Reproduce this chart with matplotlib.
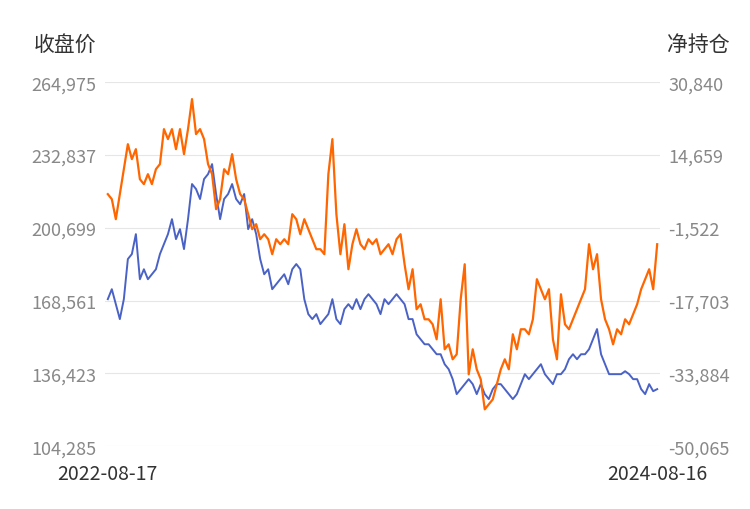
import matplotlib
matplotlib.use("Agg")
import matplotlib.pyplot as plt
import numpy as np

plt.rcParams['font.family'] = ['Noto Sans CJK SC', 'DejaVu Sans']

start_label = "2022-08-17"
end_label = "2024-08-16"

close_k = [169.2,173.6,167.0,160.4,169.2,186.9,189.1,197.9,178.0,182.4,178.0,180.2,182.4,189.1,193.5,197.9,204.5,195.7,200.1,191.3,
           204.5,220.0,217.8,213.4,222.2,224.4,228.8,215.6,204.5,213.4,215.6,220.0,213.4,211.1,215.6,200.1,204.5,197.9,186.9,180.2,
           182.4,173.6,175.8,178.0,180.2,175.8,182.4,184.7,182.4,169.2,162.6,160.4,162.6,158.2,160.4,162.6,169.2,160.4,158.2,164.8,
           167.0,164.8,169.2,164.8,169.2,171.4,169.2,167.0,162.6,169.2,167.0,169.2,171.4,169.2,167.0,160.4,160.4,153.7,151.5,149.3,
           149.3,147.1,144.9,144.9,140.5,138.3,133.9,127.3,129.5,131.7,133.9,131.7,127.3,131.7,127.3,125.1,129.5,131.7,131.7,129.5,
           127.3,125.1,127.3,131.7,136.1,133.9,136.1,138.3,140.5,136.1,133.9,131.7,136.1,136.1,138.3,142.7,144.9,142.7,144.9,144.9,
           147.1,151.5,156.0,144.9,140.5,136.1,136.1,136.1,136.1,137.4,136.1,133.9,133.9,129.5,127.3,131.7,128.6,129.5]
close = [v * 1000 for v in close_k]

netpos_k = [5.95,4.84,0.39,5.95,11.50,17.06,13.73,15.95,9.28,8.17,10.39,8.17,11.50,12.62,20.40,18.18,20.40,15.95,20.40,14.84,
            20.40,27.07,19.29,20.40,18.18,12.62,10.39,2.61,4.84,11.50,10.39,14.84,9.28,5.95,4.84,1.50,-1.83,-0.72,-4.06,-2.95,
            -4.06,-7.39,-4.06,-5.17,-4.06,-5.17,1.50,0.39,-2.95,0.39,-1.83,-4.06,-6.28,-6.28,-7.39,10.39,18.18,1.50,-7.39,-0.72,
            -10.73,-5.17,-1.83,-5.17,-6.28,-4.06,-5.17,-4.06,-7.39,-6.28,-5.17,-7.39,-4.06,-2.95,-9.62,-15.17,-10.73,-19.62,-18.51,-21.85,
            -21.85,-22.96,-26.30,-17.40,-28.52,-27.41,-30.74,-29.63,-17.40,-9.62,-34.08,-28.52,-32.97,-35.19,-41.86,-40.75,-39.64,-36.30,-32.97,-30.74,
            -32.97,-25.18,-28.52,-24.07,-24.07,-25.18,-21.85,-12.95,-15.17,-17.40,-15.17,-26.30,-30.74,-16.29,-22.96,-24.07,-21.85,-19.62,-17.40,-15.17,
            -5.17,-10.73,-7.39,-17.40,-21.85,-24.07,-27.41,-24.07,-25.18,-21.85,-22.96,-20.73,-18.51,-15.17,-12.95,-10.73,-15.17,-5.17]
netpos = [v * 1000 for v in netpos_k]

left_ticks = [104285, 136423, 168561, 200699, 232837, 264975]
right_ticks = [-50065, -33884, -17703, -1522, 14659, 30840]

fig = plt.figure(figsize=(7.5, 5.1), dpi=100)
ax = fig.add_axes([0.14, 0.123, 0.74, 0.714])
ax2 = ax.twinx()

x1 = np.arange(len(close))
x2 = np.linspace(0, len(close) - 1, len(netpos))
ax.plot(x1, close, color='#4a62c6', lw=1.4, zorder=3)
ax2.plot(x2, netpos, color='#ff6600', lw=1.6, zorder=4)

ax.set_ylim(left_ticks[0], left_ticks[-1])
ax2.set_ylim(right_ticks[0], right_ticks[-1])
ax.set_yticks(left_ticks)
ax.set_yticklabels([f"{v:,}" for v in left_ticks])
ax2.set_yticks(right_ticks)
ax2.set_yticklabels([f"{v:,}" for v in right_ticks])
ax.set_xlim(-0.7, len(close) - 0.3)
ax.set_xticks([0, len(close) - 1])
ax.set_xticklabels([start_label, end_label])
ax.grid(axis='y', color='#e6e6e6', lw=0.8)
ax.set_axisbelow(True)
for a in (ax, ax2):
    for s in a.spines.values():
        s.set_visible(False)
    a.tick_params(length=0, labelsize=13, colors='#888888')
ax.tick_params(axis='x', colors='#333333', labelsize=14, pad=12)
ax.tick_params(axis='y', pad=6)
ax2.tick_params(axis='y', pad=6)
fig.text(0.045, 0.9, "收盘价", fontsize=15, color='#333333')
fig.text(0.89, 0.9, "净持仓", fontsize=15, color='#333333')
fig.savefig("out.png")
